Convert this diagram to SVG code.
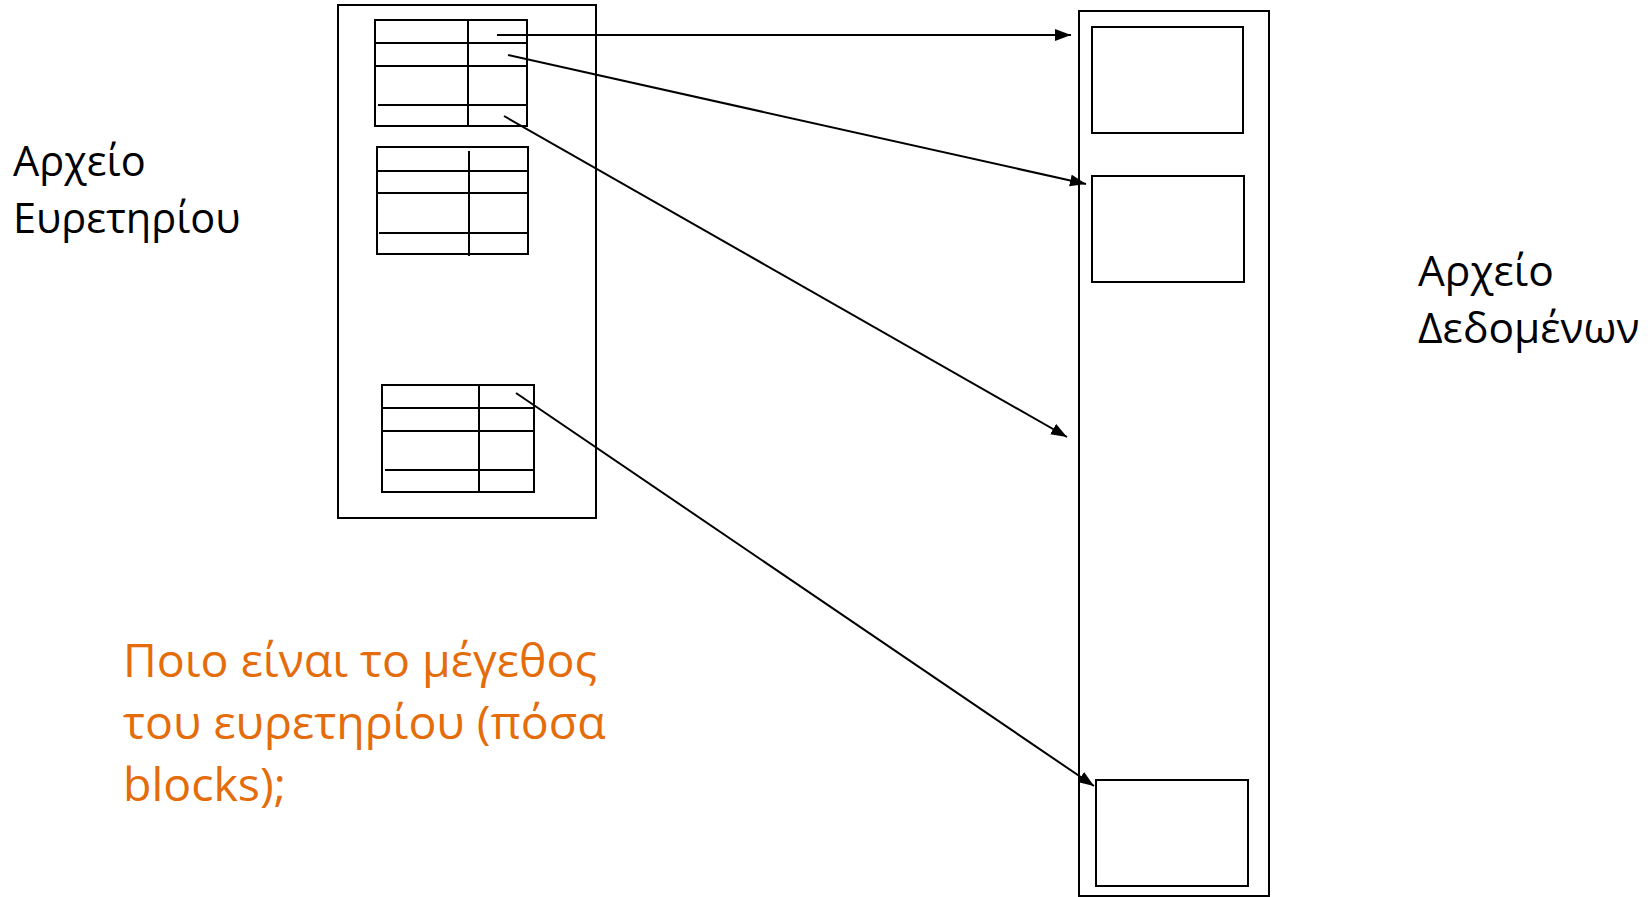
<svg xmlns="http://www.w3.org/2000/svg" width="1650" height="897" viewBox="0 0 1650 897">
<style>
.box{fill:none;stroke:#000;stroke-width:2}
.ln{stroke:#000;stroke-width:2;fill:none}
.conn{stroke:#000;stroke-width:2;fill:none;marker-end:url(#ah)}
.lbl{font-family:"Open Sans","Noto Sans","DejaVu Sans",sans-serif;font-size:41.5px;fill:#000}
.lblr{font-family:"Open Sans","Noto Sans","DejaVu Sans",sans-serif;font-size:42.5px;fill:#000}
.q{font-family:"Open Sans","Noto Sans","DejaVu Sans",sans-serif;font-size:46.5px;fill:#E46C0A}
</style>
<defs>
<marker id="ah" markerUnits="userSpaceOnUse" markerWidth="18" markerHeight="14" refX="16" refY="6" orient="auto">
<path d="M0,0 L16,6 L0,12 z" fill="#000"/>
</marker>
</defs>
<rect width="1650" height="897" fill="#fff"/>
<g id="index-file">
<rect class="box" x="338" y="5" width="258" height="513"/>
</g>
<g id="index-block-1">
<rect class="box" x="375" y="20" width="152" height="106"/>
<line class="ln" x1="468" y1="20" x2="468" y2="126"/>
<line class="ln" x1="375" y1="43" x2="527" y2="43"/>
<line class="ln" x1="375" y1="66" x2="527" y2="66"/>
<line class="ln" x1="378" y1="105" x2="527" y2="105"/>
</g>
<g id="index-block-2">
<rect class="box" x="377" y="147" width="151" height="107"/>
<line class="ln" x1="469" y1="151" x2="469" y2="256"/>
<line class="ln" x1="377" y1="171" x2="528" y2="171"/>
<line class="ln" x1="377" y1="193" x2="528" y2="193"/>
<line class="ln" x1="379" y1="233" x2="528" y2="233"/>
</g>
<g id="index-block-3">
<rect class="box" x="382" y="385" width="152" height="107"/>
<line class="ln" x1="479" y1="385" x2="479" y2="492"/>
<line class="ln" x1="382" y1="408" x2="534" y2="408"/>
<line class="ln" x1="382" y1="431" x2="534" y2="431"/>
<line class="ln" x1="385" y1="470" x2="534" y2="470"/>
</g>
<g id="data-file">
<rect class="box" x="1079" y="11" width="190" height="885"/>
</g>
<g id="data-block-1">
<rect class="box" x="1092" y="27" width="151" height="106"/>
</g>
<g id="data-block-2">
<rect class="box" x="1092" y="176" width="152" height="106"/>
</g>
<g id="data-block-3">
<rect class="box" x="1096" y="780" width="152" height="106"/>
</g>
<g id="connectors">
<line class="conn" x1="497" y1="35" x2="1071" y2="35"/>
<line class="conn" x1="508" y1="55" x2="1086" y2="184"/>
<line class="conn" x1="504" y1="116" x2="1067" y2="437"/>
<line class="conn" x1="516" y1="393" x2="1094" y2="786"/>
</g>
<g id="label-index">
<text class="lbl" x="13" y="176">Αρχείο</text>
<text class="lbl" x="13" y="233">Ευρετηρίου</text>
</g>
<g id="label-data">
<text class="lblr" x="1418" y="286">Αρχείο</text>
<text class="lblr" x="1418" y="343">Δεδομένων</text>
</g>
<g id="question">
<text class="q" x="123" y="677">Ποιο είναι το μέγεθος</text>
<text class="q" x="123" y="739">του ευρετηρίου (πόσα</text>
<text class="q" x="123" y="801">blocks);</text>
</g>
</svg>
